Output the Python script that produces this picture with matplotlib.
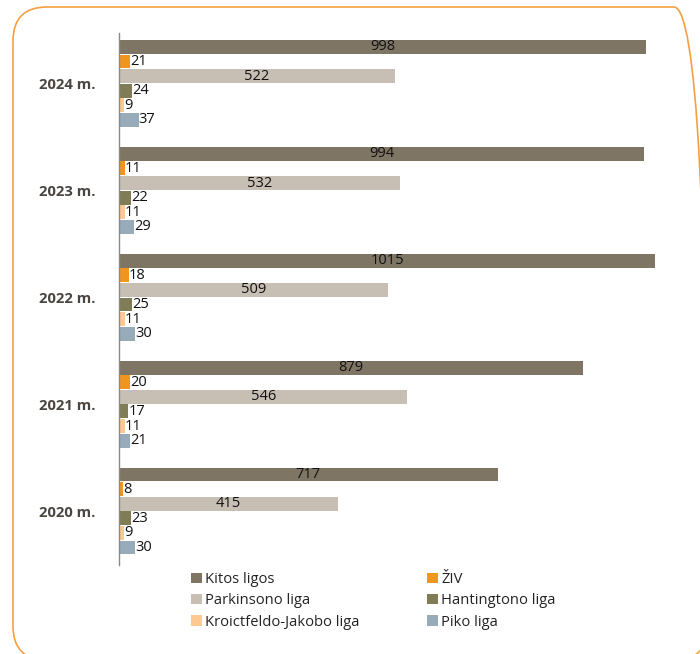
import matplotlib.pyplot as plt
import numpy as np
from matplotlib.patches import FancyBboxPatch, Patch
from matplotlib.transforms import IdentityTransform

plt.rcParams['font.family'] = ['Open Sans', 'DejaVu Sans']

years = ['2020 m.', '2021 m.', '2022 m.', '2023 m.', '2024 m.']
series = ['Kitos ligos', 'ŽIV', 'Parkinsono liga', 'Hantingtono liga',
          'Kroictfeldo-Jakobo liga', 'Piko liga']
kitos = [717, 879, 1015, 994, 998]
ziv = [8, 20, 18, 11, 21]
parkinson = [415, 546, 509, 532, 522]
hantington = [23, 17, 25, 22, 24]
kroi = [9, 11, 11, 11, 9]
piko = [30, 21, 30, 29, 37]
colors = ['#7f7564', '#f0961e', '#c7bfb4', '#7f7c56', '#fdc990', '#97abb8']

values = [kitos, ziv, parkinson, hantington, kroi, piko]

fig = plt.figure(figsize=(7.0, 6.54), dpi=100)
ax = fig.add_axes([119 / 700, 1 - 565 / 654, (655 - 119) / 700, (565 - 33) / 654])

step = 0.1366
height = 0.13
groups = np.arange(len(years))
for j, (name, vals, col) in enumerate(zip(series, values, colors)):
    ys = groups + (2.5 - j) * step
    ax.barh(ys, vals, height=height, color=col, label=name)
    for y, v in zip(ys, vals):
        if v > 100:
            ax.text(v / 2, y, str(v), ha='center', va='center', fontsize=10.5, color='#111111')
        else:
            ax.text(v + 0.5, y, str(v), ha='left', va='center', fontsize=10.5, color='#111111')

ax.set_xlim(0, 1015)
ax.set_ylim(-0.505, 4.472)
ax.set_yticks(groups)
ax.set_yticklabels(years, fontsize=10.6, fontweight='bold', color='#4a4540')
ax.tick_params(axis='y', length=0, pad=17)
ax.set_xticks([])
for s in ['top', 'right', 'bottom']:
    ax.spines[s].set_visible(False)
ax.spines['left'].set_color('#8a8a8a')
ax.spines['left'].set_linewidth(1.0)

handles = [Patch(facecolor=c, edgecolor='none') for c in colors]
order = [0, 2, 4, 1, 3, 5]
fig.legend([handles[i] for i in order], [series[i] for i in order],
           ncol=2, loc='upper left', bbox_to_anchor=(178 / 700, 1 - 559 / 654),
           frameon=False, fontsize=10.6, handlelength=0.7, handleheight=0.7,
           handletextpad=0.25, columnspacing=4.6, labelspacing=0.42,
           labelcolor='#222222')

# rounded orange frame, partly cut off at the right and bottom
frame = FancyBboxPatch((13, -6), 695, 653, boxstyle='round,pad=0,rounding_size=34',
                       transform=IdentityTransform(), facecolor='none',
                       edgecolor='#f5a040', linewidth=1.2, clip_on=False)
fig.add_artist(frame)

fig.savefig('out.png', dpi=100)
